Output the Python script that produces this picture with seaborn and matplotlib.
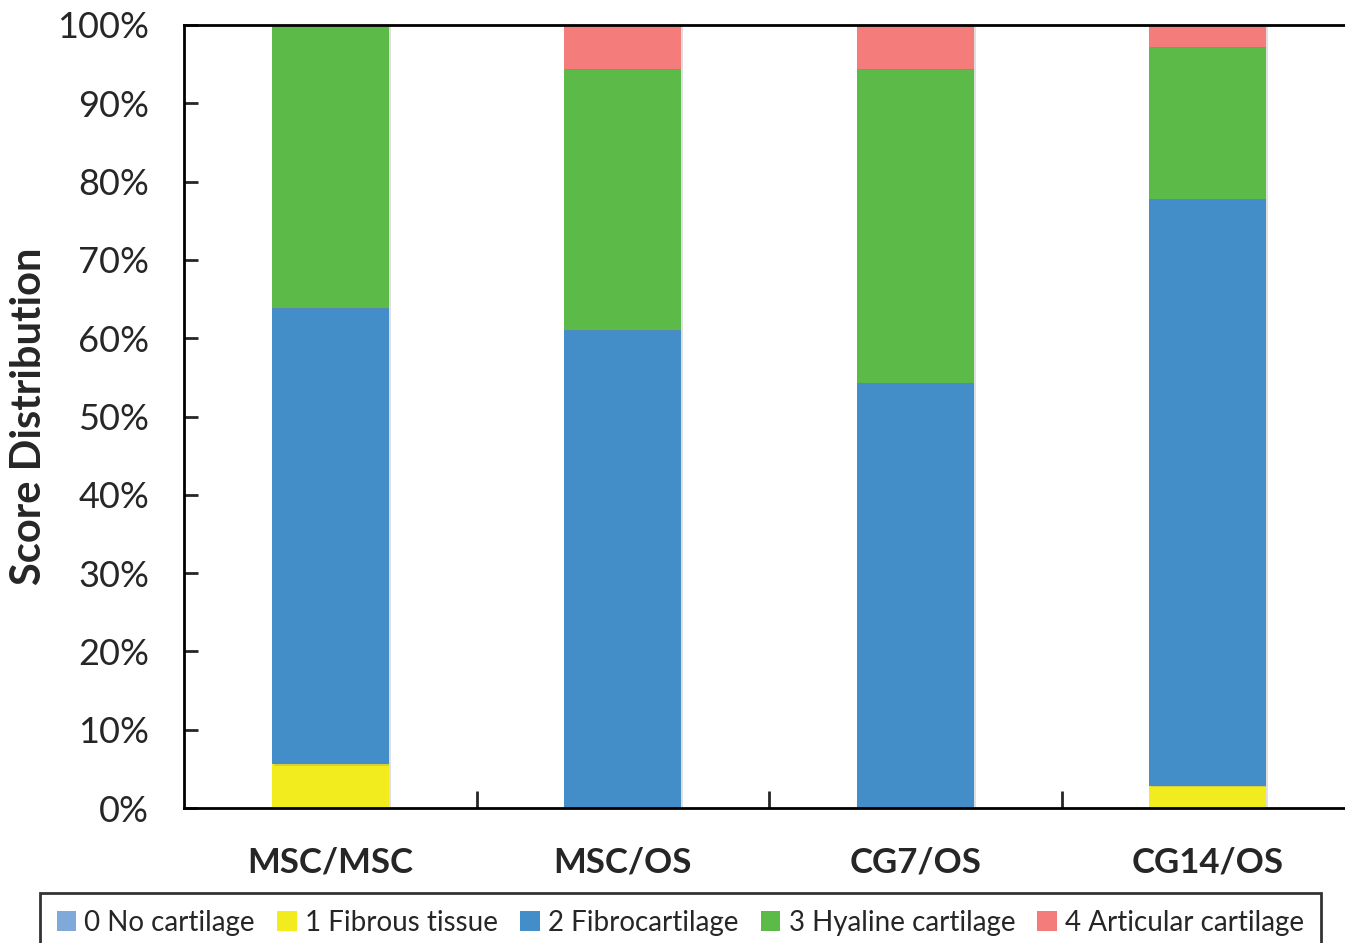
import matplotlib
import matplotlib.pyplot as plt
import matplotlib.patheffects as pe
from matplotlib.patches import Patch
from matplotlib.ticker import PercentFormatter, FixedLocator
import seaborn as sns

matplotlib.use("Agg")

groups = ["MSC/MSC", "MSC/OS", "CG7/OS", "CG14/OS"]
score_labels = ["0 No cartilage", "1 Fibrous tissue", "2 Fibrocartilage",
                "3 Hyaline cartilage", "4 Articular cartilage"]
no_cartilage = [0.0, 0.0, 0.0, 0.0]
fibrous = [5.6, 0.0, 0.0, 2.8]
fibrocartilage = [58.3, 61.1, 54.3, 75.0]
hyaline = [36.1, 33.3, 40.1, 19.4]
articular = [0.0, 5.6, 5.6, 2.8]
colors = ["#7FA9D8", "#F2EC1E", "#438DC9", "#5CBA48", "#F47C7A"]

sns.set_style("white")
plt.rcParams["font.family"] = ["Lato", "DejaVu Sans"]

fig = plt.figure(figsize=(13.45, 9.43), dpi=100)
ax = fig.add_axes([184 / 1345, 1 - 808 / 943, 1170 / 1345, 783 / 943])

shadow = [pe.SimplePatchShadow(offset=(1.5, -1), alpha=0.25, shadow_rgbFace="grey"), pe.Normal()]
bottom = [0.0] * len(groups)
for vals, col in zip([no_cartilage, fibrous, fibrocartilage, hyaline, articular], colors):
    sns.barplot(x=groups, y=vals, bottom=bottom, color=col, width=0.4,
                saturation=1, ax=ax, linewidth=0)
    bottom = [b + v for b, v in zip(bottom, vals)]

for p in ax.patches:
    p.set_path_effects(shadow)

ax.set_xlim(-0.5, 3.5)
ax.set_ylim(0, 100)
ax.yaxis.set_major_locator(FixedLocator(range(0, 101, 10)))
ax.yaxis.set_major_formatter(PercentFormatter(decimals=0))
ax.tick_params(axis="y", direction="in", length=10, width=2, labelsize=26, pad=25, left=True)
ax.tick_params(axis="x", which="major", length=0, pad=28)
ax.set_xticks([0.5, 1.5, 2.5], minor=True)
ax.tick_params(axis="x", which="minor", direction="in", length=12, width=2, bottom=True)
for lab in ax.get_xticklabels():
    lab.set_fontweight("bold")
    lab.set_fontsize(25)

for side in ["left", "bottom", "top"]:
    ax.spines[side].set_visible(True)
    ax.spines[side].set_color("black")
    ax.spines[side].set_linewidth(2)
ax.spines["right"].set_visible(False)

ax.set_ylabel("Score Distribution", fontsize=30, fontweight="bold")
ax.yaxis.set_label_coords(-0.116, 0.5)
ax.set_xlabel("")

handles = [Patch(facecolor=c, edgecolor="none") for c in colors]
leg = fig.legend(handles, score_labels, loc="upper left", ncol=5,
                 bbox_to_anchor=(40 / 1345, 1 - 893 / 943), bbox_transform=fig.transFigure,
                 frameon=True, fancybox=False, edgecolor="black", fontsize=20,
                 handlelength=0.7, handleheight=0.7, handletextpad=0.3,
                 columnspacing=0.8, borderpad=0.6, borderaxespad=0)
leg.get_frame().set_linewidth(2)

fig.savefig("out.png", dpi=100)
